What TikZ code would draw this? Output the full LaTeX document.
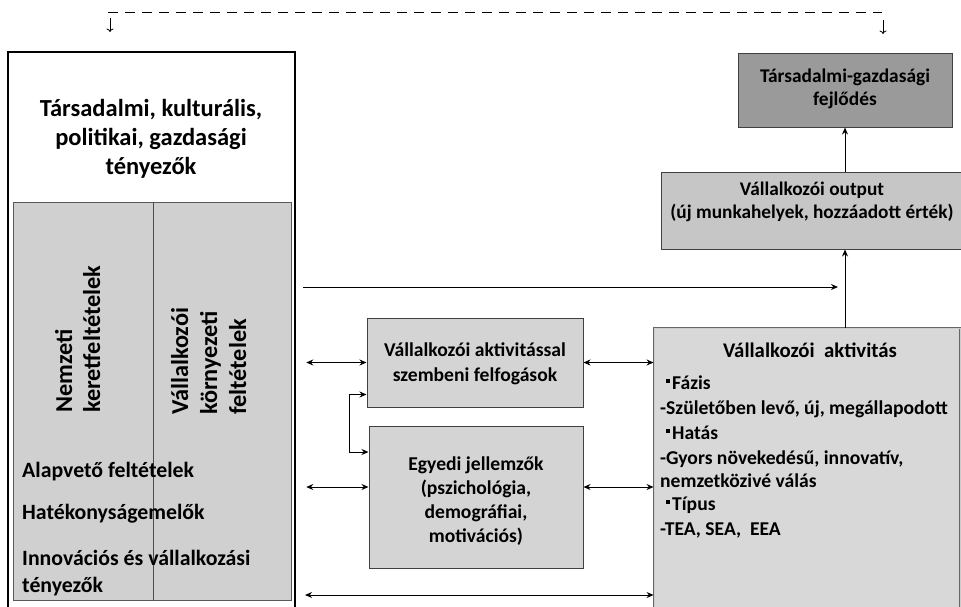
\documentclass[tikz,border=0pt]{standalone}
\usepackage{fontspec}
\setmainfont{Carlito}
\usetikzlibrary{arrows.meta}
\definecolor{gA}{HTML}{D0D0D0}
\definecolor{gB}{HTML}{D4D4D4}
\definecolor{gC}{HTML}{C6C6C6}
\definecolor{gD}{HTML}{9A9A9A}
\definecolor{gE}{HTML}{D8D8D8}
\definecolor{bd}{HTML}{404040}
\newcommand{\sqbul}{\raisebox{6pt}{\rule{4pt}{4pt}}\hspace{2pt}}
\begin{document}
\begin{tikzpicture}[x=1pt,y=-1pt,
  box/.style={draw=bd, line width=1pt, inner sep=0pt},
  txt/.style={align=center, inner sep=0pt, font=\bfseries\fontsize{19.4}{23}\selectfont},
  rot/.style={rotate=90, anchor=base west, inner sep=0pt, font=\bfseries\fontsize{24.3}{29}\selectfont},
  lst/.style={anchor=base west, inner sep=0pt, font=\bfseries\fontsize{21.8}{27}\selectfont},
  actl/.style={anchor=base west, inner sep=0pt, font=\bfseries\fontsize{19.6}{24}\selectfont},
  arr/.style={-{Stealth[length=7pt,width=6pt]}, line width=1pt},
  darr/.style={{Stealth[length=7pt,width=6pt]}-{Stealth[length=7pt,width=6pt]}, line width=1pt},
  downarr/.style={-{To[length=3.5pt,width=7pt]}, line width=0.8pt}]
\useasboundingbox (0,0) rectangle (961,606);
% top dashed feedback line
\coordinate (d1) at (108,12);
\coordinate (d2) at (882,12);
\draw[line width=0.9pt, dash pattern=on 10pt off 7pt] (d1) -- (d2);
\coordinate (a1s) at (110,18);
\coordinate (a1e) at (110,32);
\coordinate (a2s) at (883,20);
\coordinate (a2e) at (883,34);
\draw[downarr] (a1s) -- (a1e);
\draw[downarr] (a2s) -- (a2e);
% left big box
\node[draw=black, line width=2.5pt, minimum width=287, minimum height=566, inner sep=0pt] (outer) at (151.5,335) {};
\node[box, draw=gray!70!black, line width=0.8pt, fill=gA, minimum width=278, minimum height=398] (inner) at (152,401) {};
\draw[gray!60!black, line width=0.7pt] (inner.north -| 153,0) coordinate (dv1) -- (inner.south -| dv1);
\node[txt, font=\bfseries\fontsize{24.5}{29}\selectfont] (ttl) at (151,139) {Társadalmi, kulturális,\\politikai, gazdasági\\tényezők};
\node[rot] (nk1) at (72,413) {Nemzeti};
\node[rot] (nk2) at (100,413) {keretfeltételek};
\node[rot] (vk1) at (188,415) {Vállalkozói};
\node[rot] (vk2) at (217,415) {környezeti};
\node[rot] (vk3) at (246,415) {feltételek};
\node[lst] (l1) at (22,477) {Alapvető feltételek};
\node[lst] (l2) at (22,519) {Hatékonyságemelők};
\node[lst] (l3) at (22,565) {Innovációs és vállalkozási};
\node[lst] (l4) at (22,592) {tényezők};
% right column
\node[box, fill=gD, minimum width=214, minimum height=74] (topbox) at (845,90) {};
\node[txt] (toptxt) at (845,89) {Társadalmi-gazdasági\\fejlődés};
\node[box, fill=gC, minimum width=300, minimum height=77] (outbox) at (811,210.5) {};
\node[txt, font=\bfseries\fontsize{19.3}{23}\selectfont] (outtxt) at (812,201.5) {Vállalkozói output\\(új munkahelyek, hozzáadott érték)};
\node[box, draw=gray!80!black, double=gray!40, double distance=0.8pt, line width=0.9pt, fill=gE, minimum width=306, minimum height=280] (act) at (807,468) {};
\node[txt, font=\bfseries\fontsize{20.8}{24}\selectfont] (acttl) at (810,350) {Vállalkozói\ \ aktivitás};
\node[actl] (p1) at (666,389) {\sqbul Fázis};
\node[actl] (p2) at (660,414) {-Születőben levő, új, megállapodott};
\node[actl] (p3) at (666,439) {\sqbul Hatás};
\node[actl] (p4) at (660,464) {-Gyors növekedésű, innovatív,};
\node[actl] (p5) at (660,487) {nemzetközivé válás};
\node[actl] (p6) at (666,510) {\sqbul Típus};
\node[actl] (p7) at (660,535) {-TEA, SEA,\ \ EEA};
% middle boxes
\node[box, fill=gB, minimum width=216, minimum height=89] (m1) at (475,362.5) {};
\node[txt, font=\bfseries\fontsize{19.6}{25}\selectfont] (m1t) at (475,364) {Vállalkozói aktivitással\\szembeni felfogások};
\node[box, fill=gB, minimum width=214, minimum height=142] (m2) at (476,497) {};
\node[txt, font=\bfseries\fontsize{19.6}{24}\selectfont] (m2t) at (476,501) {Egyedi jellemzők\\(pszichológia,\\demográfiai,\\motivációs)};
% arrows
\draw[arr] (outbox.north -| topbox.south) -- (topbox.south);
\draw[arr] (act.north -| topbox.south) -- (outbox.south -| topbox.south);
\coordinate (h1) at (303,287);
\coordinate (h2) at (838,287);
\draw[arr] (h1) -- (h2);
\draw[darr] ([xshift=10pt]outer.east |- m1.west) -- (m1.west);
\draw[darr] (m1.east) -- (act.west |- m1.east);
\draw[darr] ([xshift=10pt,yshift=10pt]outer.east |- m2.west) -- ([yshift=10pt]m2.west);
\draw[darr] ([yshift=10pt]m2.east) -- ([yshift=10pt]act.west |- m2.east);
\coordinate (b1) at (305,595);
\draw[darr] (b1) -- (act.west |- b1);
\draw[darr] ([yshift=-32pt]m1.west) -- ++(-17,0) |- ([yshift=45pt]m2.west);
\end{tikzpicture}
\end{document}
